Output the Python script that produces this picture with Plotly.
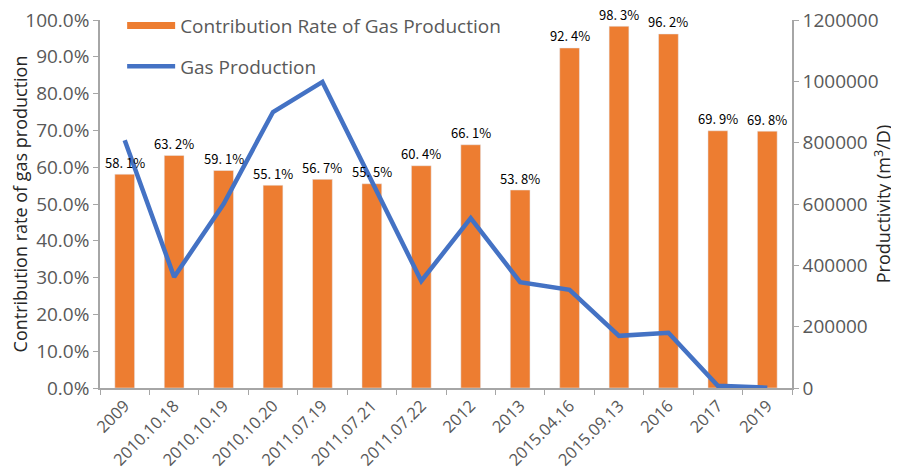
import plotly.graph_objects as go

categories = ["2009", "2010.10.18", "2010.10.19", "2010.10.20", "2011.07.19", "2011.07.21",
              "2011.07.22", "2012", "2013", "2015.04.16", "2015.09.13", "2016", "2017", "2019"]
contribution_rate = [58.1, 63.2, 59.1, 55.1, 56.7, 55.5, 60.4, 66.1, 53.8, 92.4, 98.3, 96.2, 69.9, 69.8]
gas_production = [808000, 362000, 600000, 900000, 998000, 670000, 349000, 554000, 345000,
                  320000, 170000, 180000, 7000, 1000]
left_ticks = [0, 10, 20, 30, 40, 50, 60, 70, 80, 90, 100]
right_ticks = [0, 200000, 400000, 600000, 800000, 1000000, 1200000]

labels = [f"{v:.1f}%".replace(".", ". ") for v in contribution_rate]

FONT = "Open Sans, sans-serif"
tick_font = dict(family=FONT, size=19, color="#595959")
xtick_font = dict(family=FONT, size=16.5, color="#595959")
title_font = dict(family=FONT, size=18, color="#262626")

fig = go.Figure()
fig.add_trace(go.Bar(
    x=categories, y=contribution_rate, name="Contribution Rate of Gas Production",
    marker=dict(color="#ED7D31"), width=0.4, showlegend=False, yaxis="y"))
# legend proxy for the bar series (wide rectangle symbol); draws nothing
fig.add_trace(go.Scatter(
    x=[categories[0]], y=[None], name="Contribution Rate of Gas Production", mode="lines",
    line=dict(color="#ED7D31", width=7), legendgroup="a", yaxis="y"))
fig.add_trace(go.Scatter(
    x=categories, y=gas_production, name="Gas Production", mode="lines",
    line=dict(color="#4472C4", width=4.5), legendgroup="b", yaxis="y2"))

for i, (v, t) in enumerate(zip(contribution_rate, labels)):
    fig.add_annotation(x=i, y=v, xref="x", yref="y", text=t, showarrow=False,
                       yanchor="middle", yshift=12,
                       font=dict(family="Noto Sans CJK SC, sans-serif", size=13, color="#000000"))

# page body has an 8px margin; figure sized so it fills the 899x471 window exactly
fig.update_layout(
    width=891, height=463,
    margin=dict(l=92, r=107, t=12, b=83, autoexpand=False),
    plot_bgcolor="white", paper_bgcolor="white",
    showlegend=True,
    legend=dict(x=0.032, y=1.036, xanchor="left", yanchor="top",
                font=dict(family=FONT, size=19, color="#595959"),
                bgcolor="rgba(0,0,0,0)", tracegroupgap=13, itemwidth=48),
    xaxis=dict(type="category", categoryorder="array", categoryarray=categories,
               range=[-0.5, len(categories) - 0.5],
               tickangle=-45, tickfont=xtick_font, automargin=False,
               showline=True, linecolor="#A6A6A6", linewidth=1.5, tickson="boundaries",
               ticks="outside", ticklen=5, tickcolor="#A6A6A6", showgrid=False,
               ticklabeloverflow="allow"),
    yaxis=dict(range=[0, 100], tickvals=left_ticks, automargin=False,
               ticktext=[f"{t:.1f}%" for t in left_ticks], tickfont=tick_font,
               showline=True, linecolor="#A6A6A6", linewidth=1.5,
               ticks="outside", ticklen=5, tickcolor="#A6A6A6", showgrid=False,
               zeroline=False, ticklabeloverflow="allow",
               title=dict(text="Contribution rate of gas production", font=title_font, standoff=2)),
    yaxis2=dict(range=[0, 1200000], tickvals=right_ticks, automargin=False,
                ticktext=[str(t) for t in right_ticks], tickfont=tick_font,
                overlaying="y", side="right",
                showline=True, linecolor="#A6A6A6", linewidth=1.5,
                ticks="outside", ticklen=5, tickcolor="#A6A6A6", showgrid=False,
                zeroline=False, ticklabeloverflow="allow",
                title=dict(text="Productivity (m<sup>3</sup>/D)", font=title_font, standoff=0)),
)

fig.write_html("out.html")
